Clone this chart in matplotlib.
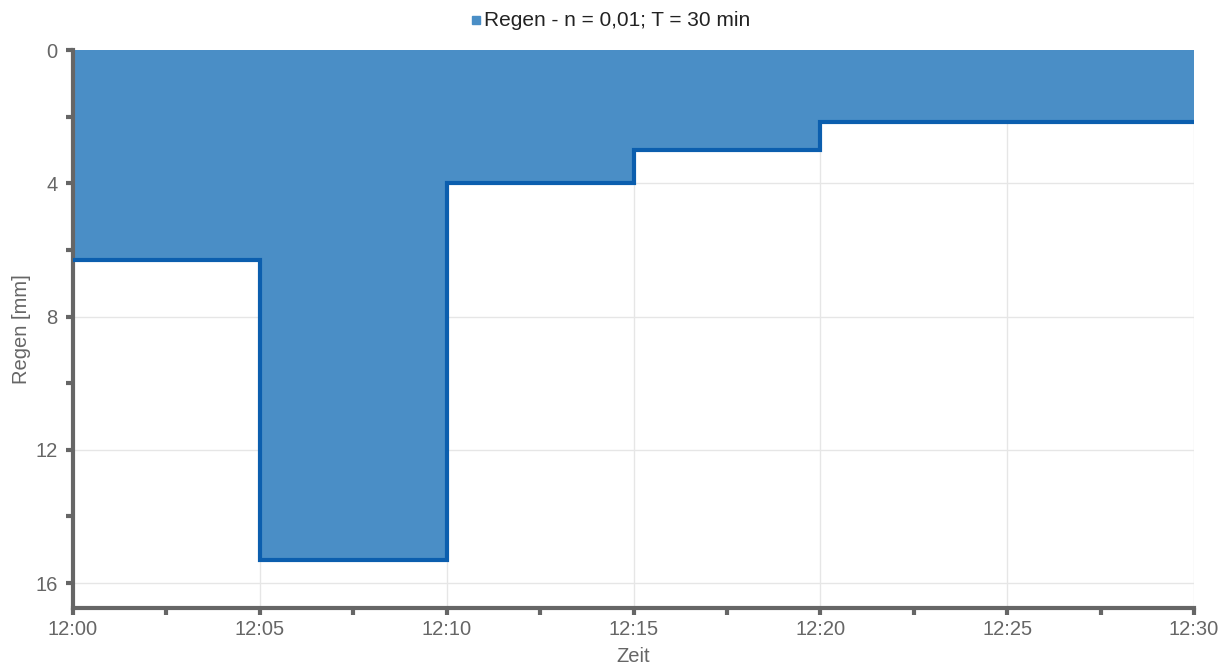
import matplotlib
matplotlib.use("Agg")
import matplotlib.pyplot as plt
from matplotlib.ticker import MultipleLocator, FuncFormatter
from matplotlib.patches import Rectangle

plt.rcParams['font.family'] = ['Liberation Sans', 'DejaVu Sans']

# data
minutes = [0, 5, 10, 15, 20, 25, 30]
rain = [6.3, 15.3, 4.0, 3.0, 2.15, 2.15, 2.15]
series_label = "Regen - n = 0,01; T = 30 min"
x_label = "Zeit"
y_label = "Regen [mm]"

fill_color = "#4A8EC6"
line_color = "#0B5EAE"
axis_color = "#666666"
text_color = "#666666"

fig = plt.figure(figsize=(12.24, 6.64), dpi=100)
ax = fig.add_axes([73/1224, 1 - 608/664, (1194 - 73)/1224, (608 - 50)/664])

ax.fill_between(minutes, 0, rain, step='post', color=fill_color, linewidth=0, zorder=2)
ax.step(minutes, rain, where='post', color=line_color, linewidth=3, zorder=3,
        solid_joinstyle='miter')

ax.set_xlim(0, 30)
ax.set_ylim(16.75, 0)

ax.xaxis.set_major_locator(MultipleLocator(5))
ax.xaxis.set_minor_locator(MultipleLocator(2.5))
ax.xaxis.set_major_formatter(FuncFormatter(lambda v, p: f"12:{int(round(v)):02d}"))
ax.yaxis.set_major_locator(MultipleLocator(4))
ax.yaxis.set_minor_locator(MultipleLocator(2))

ax.grid(True, which='major', color='#e6e6e6', linewidth=1, zorder=0)
ax.set_axisbelow(True)

for s in ['top', 'right']:
    ax.spines[s].set_visible(False)
for s in ['left', 'bottom']:
    ax.spines[s].set_color(axis_color)
    ax.spines[s].set_linewidth(3)

ax.tick_params(axis='both', which='both', color=axis_color, labelcolor=text_color,
               labelsize=14.5, direction='out', width=3, length=5)
ax.tick_params(axis='y', which='both', pad=6)

ax.set_xlabel(x_label, color=text_color, fontsize=14.5, labelpad=6)
ax.set_ylabel(y_label, color=text_color, fontsize=14.5, labelpad=3)

fig.patches.append(Rectangle((472/1224, 1 - 24/664), 8/1224, 8/664,
                             transform=fig.transFigure, color=fill_color, figure=fig))
fig.text(484/1224, 1 - 20/664, series_label, color='#222222', fontsize=15, ha='left', va='center')

fig.savefig("out.png", dpi=100)
